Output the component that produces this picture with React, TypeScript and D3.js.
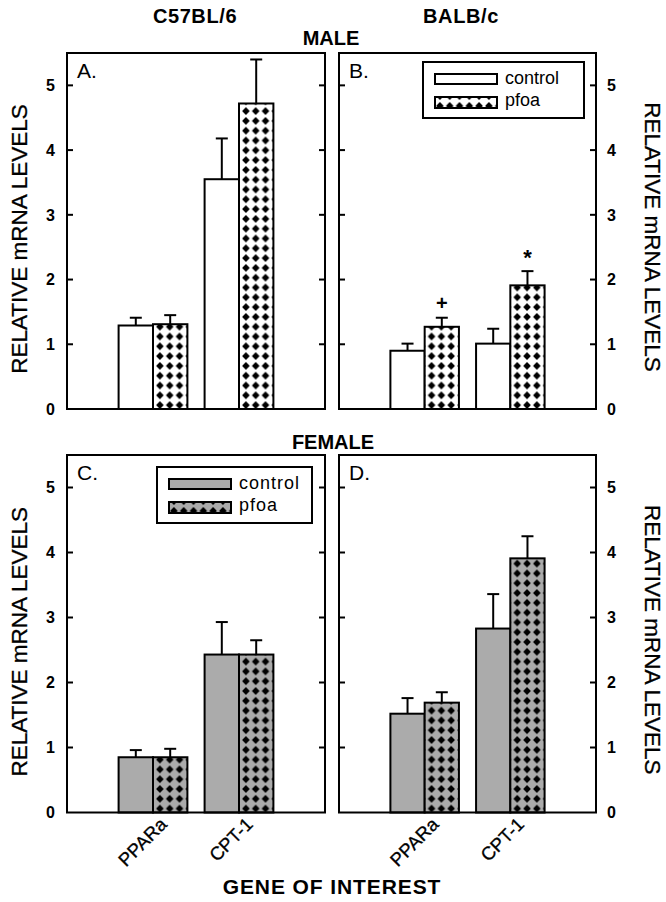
import React from "react";
import * as d3 from "d3";

const genes = ["PPARa", "CPT-1"];
const series = ["control", "pfoa"];
const yTicks = [0, 1, 2, 3, 4, 5];
const panelLetters = ["A.", "B.", "C.", "D."];

// Means and standard errors
const maleC57Control = [1.29, 3.55];
const maleC57ControlSE = [0.12, 0.63];
const maleC57Pfoa = [1.31, 4.72];
const maleC57PfoaSE = [0.14, 0.68];

const maleBalbControl = [0.9, 1.01];
const maleBalbControlSE = [0.11, 0.23];
const maleBalbPfoa = [1.27, 1.91];
const maleBalbPfoaSE = [0.14, 0.22];
const maleBalbMarks = ["+", "*"];

const femaleC57Control = [0.85, 2.43];
const femaleC57ControlSE = [0.11, 0.5];
const femaleC57Pfoa = [0.85, 2.43];
const femaleC57PfoaSE = [0.13, 0.22];

const femaleBalbControl = [1.52, 2.83];
const femaleBalbControlSE = [0.24, 0.53];
const femaleBalbPfoa = [1.69, 3.91];
const femaleBalbPfoaSE = [0.16, 0.34];

const FONT = "'Liberation Sans', Arial, Helvetica, sans-serif";
const GRAY = "#ababab";
const PAT = 9.8;
const INSET = 1.1;
const DIAMOND = `M${PAT / 2},${INSET} L${PAT - INSET},${PAT / 2} L${PAT / 2},${PAT - INSET} L${INSET},${PAT / 2} Z`;

type PanelDef = {
  id: string;
  letter: string;
  left: number;
  right: number;
  top: number;
  bottom: number;
  side: "left" | "right";
  fill: string;
  control: number[];
  controlSE: number[];
  pfoa: number[];
  pfoaSE: number[];
  marks?: string[];
  legend?: { x0: number; x1: number; y0: number; y1: number; spacing: number };
  xLabels: boolean;
};

const panels: PanelDef[] = [
  { id: "a", letter: panelLetters[0], left: 67, right: 325, top: 53, bottom: 409, side: "left", fill: "#ffffff",
    control: maleC57Control, controlSE: maleC57ControlSE, pfoa: maleC57Pfoa, pfoaSE: maleC57PfoaSE, xLabels: false },
  { id: "b", letter: panelLetters[1], left: 339, right: 596, top: 53, bottom: 409, side: "right", fill: "#ffffff",
    control: maleBalbControl, controlSE: maleBalbControlSE, pfoa: maleBalbPfoa, pfoaSE: maleBalbPfoaSE, marks: maleBalbMarks,
    legend: { x0: 423, x1: 584, y0: 62, y1: 118, spacing: 0 }, xLabels: false },
  { id: "c", letter: panelLetters[2], left: 67, right: 325, top: 455, bottom: 812.5, side: "left", fill: GRAY,
    control: femaleC57Control, controlSE: femaleC57ControlSE, pfoa: femaleC57Pfoa, pfoaSE: femaleC57PfoaSE,
    legend: { x0: 157, x1: 312, y0: 467, y1: 523, spacing: 1 }, xLabels: true },
  { id: "d", letter: panelLetters[3], left: 339, right: 596, top: 455, bottom: 812.5, side: "right", fill: GRAY,
    control: femaleBalbControl, controlSE: femaleBalbControlSE, pfoa: femaleBalbPfoa, pfoaSE: femaleBalbPfoaSE, xLabels: true },
];

function Panel({ p }: { p: PanelDef }) {
  const y = d3.scaleLinear().domain([0, 5.5]).range([p.bottom, p.top]);
  const x = d3.scalePoint<string>().domain(genes).range([p.left, p.right]).padding(1);
  const barW = x.step() * 0.4;
  const inner = d3.scaleBand<string>().domain(series).range([-barW, barW]);
  const capW = 12;
  const patId = (k: string) => `pat-${p.id}-${k}`;

  const bars: { key: string; x: number; v: number; se: number; s: string; mark?: string }[] = [];
  genes.forEach((g, i) => {
    bars.push({ key: `${g}-c`, x: (x(g) as number) + (inner("control") as number), v: p.control[i], se: p.controlSE[i], s: "control" });
    bars.push({ key: `${g}-p`, x: (x(g) as number) + (inner("pfoa") as number), v: p.pfoa[i], se: p.pfoaSE[i], s: "pfoa", mark: p.marks ? p.marks[i] : undefined });
  });

  const tickLen = 6;
  return (
    <g>
      <defs>
        {bars.filter(b => b.s === "pfoa").map(b => (
          <pattern key={b.key} id={patId(b.key)} patternUnits="userSpaceOnUse" width={PAT} height={PAT} x={b.x + 2} y={p.bottom + 1}>
            <rect width={PAT} height={PAT} fill={p.fill} />
            <path d={DIAMOND} fill="#000" />
          </pattern>
        ))}
        {p.legend && (
          <pattern id={patId("legend")} patternUnits="userSpaceOnUse" width={PAT} height={PAT} x={p.legend.x0 + 12} y={p.legend.y0 + 39}>
            <rect width={PAT} height={PAT} fill={p.fill} />
            <path d={DIAMOND} fill="#000" />
          </pattern>
        )}
      </defs>
      {/* bars */}
      {bars.map(b => (
        <rect key={b.key} x={b.x} y={y(b.v)} width={barW} height={y(0) - y(b.v)}
          fill={b.s === "pfoa" ? `url(#${patId(b.key)})` : p.fill} stroke="#000" strokeWidth={2} />
      ))}
      {/* error bars */}
      {bars.map(b => {
        const cx = b.x + barW / 2;
        return (
          <g key={`e-${b.key}`} stroke="#000" strokeWidth={2}>
            <line x1={cx} x2={cx} y1={y(b.v)} y2={y(b.v + b.se)} />
            <line x1={cx - capW / 2} x2={cx + capW / 2} y1={y(b.v + b.se)} y2={y(b.v + b.se)} />
          </g>
        );
      })}
      {bars.filter(b => b.mark).map(b => (
        <text key={`m-${b.key}`} x={b.x + barW / 2} y={y(b.v + b.se) - 8} textAnchor="middle"
          fontFamily={FONT} fontWeight="bold" fontSize={b.mark === "*" ? 22 : 20}
          dy={b.mark === "*" ? "0.1em" : "0em"}>{b.mark}</text>
      ))}
      {/* frame */}
      <rect x={p.left} y={p.top} width={p.right - p.left} height={p.bottom - p.top} fill="none" stroke="#000" strokeWidth={2} />
      {/* ticks inward on both sides */}
      {yTicks.filter(t => t > 0).map(t => (
        <g key={`t-${t}`} stroke="#000" strokeWidth={2}>
          <line x1={p.left} x2={p.left + tickLen} y1={y(t)} y2={y(t)} />
          <line x1={p.right - tickLen} x2={p.right} y1={y(t)} y2={y(t)} />
        </g>
      ))}
      {yTicks.map(t => (
        <text key={`tl-${t}`} x={p.side === "left" ? p.left - 12 : p.right + 11} y={y(t)} dy="0.36em"
          textAnchor={p.side === "left" ? "end" : "start"} fontFamily={FONT} fontWeight="bold" fontSize={16}>{t}</text>
      ))}
      {/* panel letter */}
      <text x={p.left + 10} y={p.top + 25} fontFamily={FONT} fontSize={21}>{p.letter}</text>
      {/* legend */}
      {p.legend && (
        <g>
          <rect x={p.legend.x0} y={p.legend.y0} width={p.legend.x1 - p.legend.x0} height={p.legend.y1 - p.legend.y0}
            fill="#fff" stroke="#000" strokeWidth={2} />
          <rect x={p.legend.x0 + 12} y={p.legend.y0 + 12} width={62} height={10} fill={p.fill} stroke="#000" strokeWidth={2} />
          <rect x={p.legend.x0 + 12} y={p.legend.y0 + 35} width={62} height={11} fill={`url(#${patId("legend")})`} stroke="#000" strokeWidth={2} />
          <text x={p.legend.x0 + 82} y={p.legend.y0 + 22} fontFamily={FONT} fontSize={18} letterSpacing={p.legend.spacing}>{series[0]}</text>
          <text x={p.legend.x0 + 82} y={p.legend.y0 + 44} fontFamily={FONT} fontSize={18} letterSpacing={p.legend.spacing}>{series[1]}</text>
        </g>
      )}
      {/* x labels */}
      {p.xLabels && genes.map(g => {
        const ax = (x(g) as number) + 15;
        const ay = p.bottom + 13;
        return (
          <text key={`xl-${g}`} x={ax} y={ay} textAnchor="end" transform={`rotate(-45 ${ax} ${ay})`}
            fontFamily={FONT} fontSize={18.5} stroke="#000" strokeWidth={0.3}>{g}</text>
        );
      })}
      {/* y title */}
      {p.side === "left" ? (
        <text transform={`translate(27, ${(p.top + p.bottom) / 2 + 8}) rotate(-90)`} textAnchor="middle"
          fontFamily={FONT} fontSize={22.5} stroke="#000" strokeWidth={0.3}>RELATIVE mRNA LEVELS</text>
      ) : (
        <text transform={`translate(645, ${(p.top + p.bottom) / 2 + 6}) rotate(90)`} textAnchor="middle"
          fontFamily={FONT} fontSize={22.5} stroke="#000" strokeWidth={0.3}>RELATIVE mRNA LEVELS</text>
      )}
    </g>
  );
}

export default function App() {
  return (
    <svg width={666} height={902} style={{ position: "absolute", left: 0, top: 0, background: "#fff" }}>
      <rect width={666} height={902} fill="#fff" />
      <text x={195} y={23} textAnchor="middle" fontFamily={FONT} fontWeight="bold" fontSize={20} letterSpacing={0.6}>C57BL/6</text>
      <text x={461} y={23} textAnchor="middle" fontFamily={FONT} fontWeight="bold" fontSize={20} letterSpacing={0.6}>BALB/c</text>
      <text x={331} y={45} textAnchor="middle" fontFamily={FONT} fontWeight="bold" fontSize={20}>MALE</text>
      <text x={333} y={449} textAnchor="middle" fontFamily={FONT} fontWeight="bold" fontSize={20}>FEMALE</text>
      {panels.map(p => <Panel key={p.id} p={p} />)}
      <text x={332} y={894} textAnchor="middle" fontFamily={FONT} fontWeight="bold" fontSize={21} letterSpacing={0.9}>GENE OF INTEREST</text>
    </svg>
  );
}
